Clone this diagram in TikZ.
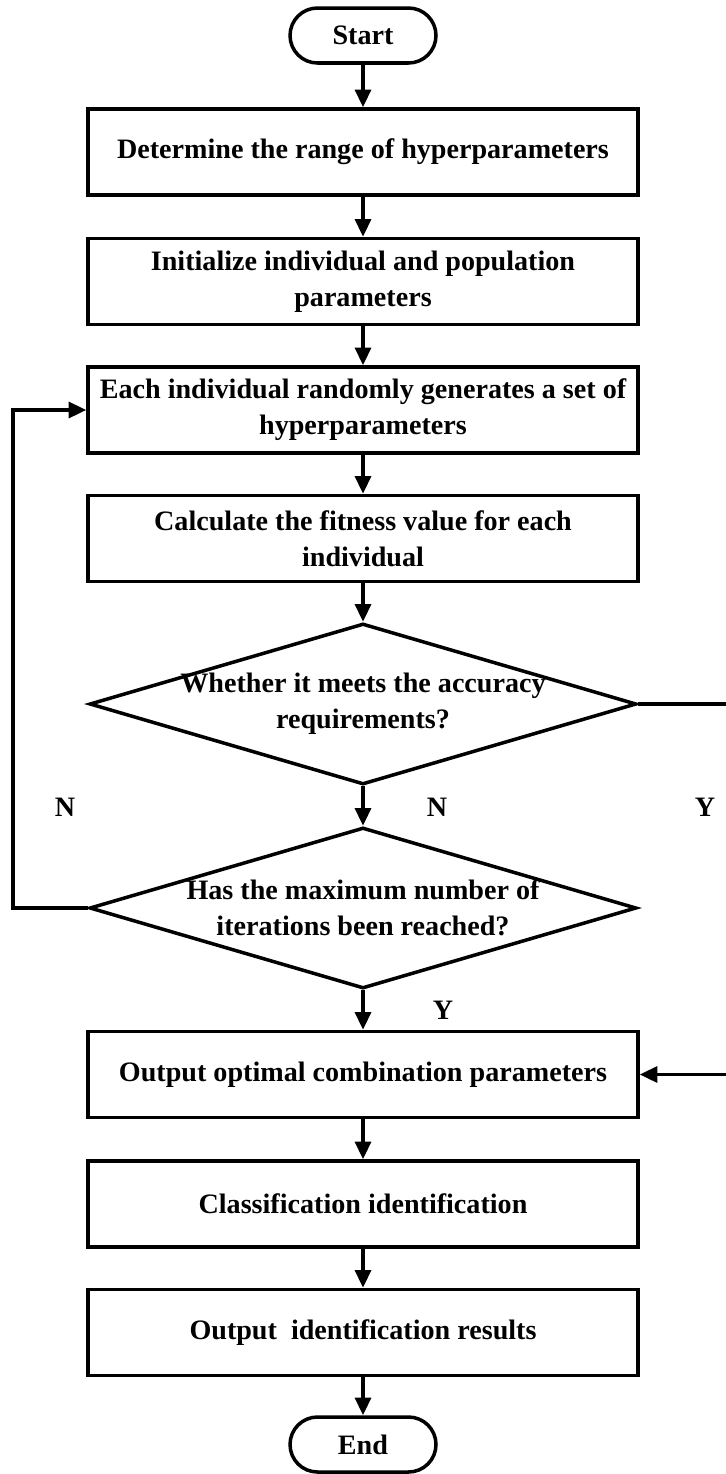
\documentclass[tikz,border=0pt]{standalone}
\usepackage{fontspec}
\setmainfont{Liberation Serif}
\usetikzlibrary{arrows.meta,shapes.geometric,shapes.misc}

\newcommand{\FlowFont}{\bfseries\fontsize{16}{20.4}\selectfont}

\tikzset{
	box/.style={draw, line width=2pt, rectangle, minimum width=11cm, minimum height=1.72cm, inner sep=0pt, align=center, font=\FlowFont},
	terminal/.style={draw, line width=2pt, rounded rectangle, minimum width=2.92cm, minimum height=1.1cm, inner sep=0pt, font=\FlowFont},
	decision/.style={draw, line width=2pt, diamond, minimum width=10.94cm, minimum height=3.22cm, inner sep=0pt},
	dtext/.style={align=center, inner sep=0pt, font=\FlowFont},
	answer/.style={inner sep=0pt, font=\FlowFont},
	flow/.style={->, line width=2pt},
}

\begin{document}
\begin{tikzpicture}
	[x=0.02cm, y=-0.02cm, >={Triangle[length=10pt,width=9pt]}]

	\useasboundingbox (0,0) rectangle (725,1474);

	% main column
	\begin{scope}
		\node[terminal] (start) at (363,35.5) {Start};
		\node[box] (range) at (363,152) {Determine the range of hyperparameters};
		\node[box] (init) at (363,281.5) {Initialize individual and population\\parameters};
		\node[box] (gen) at (363,410) {Each individual randomly generates a set of\\hyperparameters};
		\node[box] (fit) at (363,538.5) {Calculate the fitness value for each\\individual};

		\node[decision] (acc) at (363,704) {};
		\node[dtext] (acctext) at (acc) {Whether it meets the accuracy\\requirements?};
		\node[decision] (maxit) at (363,908) {};
		\node[dtext] (maxittext) at (maxit) {Has the maximum number of\\iterations been reached?};

		\node[box] (out) at (363,1074.5) {Output optimal combination parameters};
		\node[box] (cls) at (363,1204) {Classification identification};
		\node[box] (res) at (363,1332.5) {Output\ \ identification results};
		\node[terminal] (end) at (363,1444.5) {End};
	\end{scope}

	% answers
	\begin{scope}
		\node[answer] (nloop) at (65,807) {N};
		\node[answer] (nacc) at (437,807) {N};
		\node[answer] (yacc) at (705,807) {Y};
		\node[answer] (ymax) at (443,1010) {Y};
	\end{scope}

	% arrows down the column
	\foreach \a/\b in {start/range, range/init, init/gen, gen/fit, fit/acc, acc/maxit, maxit/out, out/cls, cls/res, res/end} {
		\draw[flow] (\a.south) -- (\b.north);
	}

	% loop back and exit
	\draw[flow] (maxit.west) -- ++(-75,0) |- (gen.west);
	\draw[flow] (acc.east) -- ++(91,0) |- (out.east);

\end{tikzpicture}
\end{document}
